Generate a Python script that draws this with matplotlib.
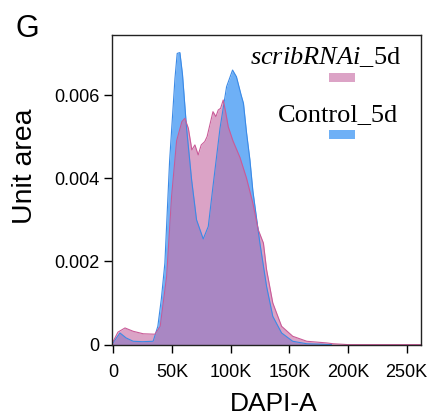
import matplotlib
matplotlib.use('Agg')
import matplotlib.pyplot as plt
from matplotlib.patches import Rectangle

# DAPI-A histogram outlines (x in DAPI-A units, y in unit area)
control_x = [-1000, 0, 5700, 11000, 17000, 25000, 34000, 38000, 41000, 44000, 48000,
             52600, 54500, 56800, 59000, 62500, 66800, 71000, 76700, 81000, 85000,
             91000, 96600, 101700, 105000, 109000, 111000, 113600, 116500, 119000,
             125000, 130700, 136000, 143500, 153000, 165000, 176000, 186000]
control_y = [0.00003, 0.00005, 0.00028, 0.00016, 0.00008, 0.00007, 0.00008, 0.00044,
             0.0011, 0.00196, 0.0044, 0.0064, 0.0070, 0.00702, 0.0065, 0.0052, 0.00396,
             0.0030, 0.00254, 0.00284, 0.0038, 0.0052, 0.0062, 0.0066, 0.00644, 0.0060,
             0.0058, 0.0051, 0.00444, 0.0037, 0.00244, 0.0014, 0.00068, 0.00028,
             0.00008, 0.00002, 0.00001, 0.0]

scrib_x = [-1000, 0, 4000, 10000, 17000, 25600, 35500, 40000, 45500, 49700, 54000,
           58500, 61000, 64000, 67000, 69600, 72400, 75000, 78000, 80000, 82000, 85000,
           87500, 89500, 91500, 93750, 96000, 98000, 102000, 108000, 113600, 119000,
           123600, 128000, 130700, 136000, 143500, 153000, 165000, 182000, 187500,
           200000, 262000]
scrib_y = [0.00005, 0.00008, 0.0003, 0.0004, 0.00032, 0.00026, 0.00025, 0.00044,
           0.00164, 0.00356, 0.0049, 0.00536, 0.00544, 0.0052, 0.00468, 0.0048, 0.00456,
           0.0048, 0.00488, 0.005, 0.00524, 0.0056, 0.00548, 0.00564, 0.00568, 0.00588,
           0.00556, 0.00524, 0.0049, 0.0045, 0.0040, 0.0034, 0.00276, 0.00244, 0.0018,
           0.001, 0.00044, 0.0002, 0.00008, 0.00004, 0.00002, 0.0, 0.0]

x_ticks = [0, 50000, 100000, 150000, 200000, 250000]
x_labels = ['0', '50K', '100K', '150K', '200K', '250K']
y_ticks = [0, 0.002, 0.004, 0.006]
y_labels = ['0', '0.002', '0.004', '0.006']

plt.rcParams['font.family'] = ['Liberation Sans', 'DejaVu Sans']
plt.rcParams['mathtext.fontset'] = 'custom'
plt.rcParams['mathtext.it'] = 'Liberation Serif:italic'
plt.rcParams['mathtext.rm'] = 'Liberation Serif'

fig = plt.figure(figsize=(4.34, 4.18), dpi=100)
ax = fig.add_axes([0.258, 0.1746, 0.713, 0.7414])

ax.fill_between(control_x, control_y, color='#6eb0f6', lw=0)
ax.plot(control_x, control_y, color='#3b8ae6', lw=0.8)
ax.fill_between(scrib_x, scrib_y, color='#c972a8', alpha=0.65, lw=0)
ax.plot(scrib_x, scrib_y, color='#c95b98', lw=0.8)

ax.set_xlim(-1100, 262700)
ax.set_ylim(-0.00001, 0.00744)
ax.set_xticks(x_ticks)
ax.set_xticklabels(x_labels)
ax.set_yticks(y_ticks)
ax.set_yticklabels(y_labels)
ax.tick_params(axis='both', direction='out', length=6, width=1, labelsize=13)
ax.tick_params(axis='x', pad=8)
ax.tick_params(axis='y', pad=3)
for s in ax.spines.values():
    s.set_linewidth(1.0)
    s.set_color('#222222')

ax.set_xlabel('DAPI-A', fontsize=19)
ax.xaxis.set_label_coords(0.523, -0.152)
ax.set_ylabel('Unit area', fontsize=20.5)
ax.yaxis.set_label_coords(-0.24, 0.577)

# legend drawn by hand: text above a small colour patch
ax.text(0.691, 0.906, r'$\it{scribRNAi}$_5d', transform=ax.transAxes,
        ha='center', va='baseline', fontsize=19, family='Liberation Serif')
ax.add_patch(Rectangle((0.701, 0.848), 0.084, 0.029, transform=ax.transAxes,
                       color='#dca3c6', lw=0))
ax.text(0.730, 0.723, 'Control_5d', transform=ax.transAxes,
        ha='center', va='baseline', fontsize=19, family='Liberation Serif')
ax.add_patch(Rectangle((0.701, 0.665), 0.084, 0.029, transform=ax.transAxes,
                       color='#6eb0f6', lw=0))

fig.text(0.035, 0.911, 'G', fontsize=22, va='baseline')

fig.savefig('out.png', dpi=100)
plt.close(fig)
